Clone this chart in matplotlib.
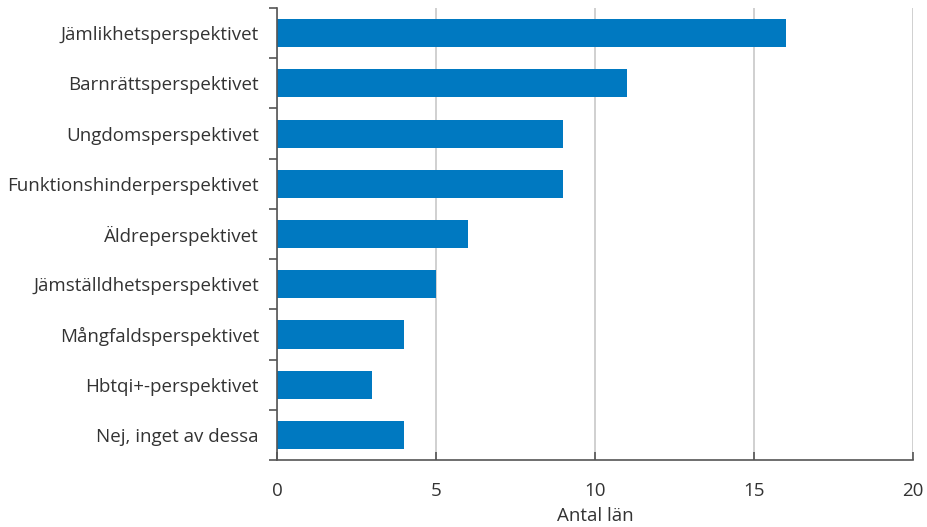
import matplotlib.pyplot as plt
from matplotlib.ticker import FixedLocator

plt.rcParams["font.family"] = ["Open Sans", "DejaVu Sans"]

categories = [
    "Jämlikhetsperspektivet",
    "Barnrättsperspektivet",
    "Ungdomsperspektivet",
    "Funktionshinderperspektivet",
    "Äldreperspektivet",
    "Jämställdhetsperspektivet",
    "Mångfaldsperspektivet",
    "Hbtqi+-perspektivet",
    "Nej, inget av dessa",
]
values = [16, 11, 9, 9, 6, 5, 4, 3, 4]
xticks = [0, 5, 10, 15, 20]

fig = plt.figure(figsize=(9.27, 5.27), dpi=100)
ax = fig.add_axes([0.2988, 0.1271, 0.6862, 0.8577])

pos = list(range(len(categories)))
ax.barh(pos, values, height=0.56, color="#0079C1", zorder=3)
ax.set_ylim(len(categories) - 0.5, -0.5)
ax.set_xlim(0, 20)

ax.set_yticks(pos)
ax.set_yticklabels(categories, fontsize=13.5, color="#333333")
ax.yaxis.set_minor_locator(FixedLocator([p - 0.5 for p in range(len(categories) + 1)]))
ax.tick_params(axis="y", which="major", length=0, pad=13)
ax.tick_params(axis="y", which="minor", length=6, width=1.2, color="#555555", direction="out")

ax.set_xticks(xticks)
ax.set_xticklabels([str(t) for t in xticks], fontsize=13.5, color="#333333")
ax.tick_params(axis="x", length=6, width=1.2, color="#555555", direction="in", pad=16)
ax.grid(axis="x", color="#c8c8c8", linewidth=1.2, zorder=0)
ax.set_xlabel("Antal län", fontsize=13.5, color="#333333", labelpad=5)

for s in ["top", "right"]:
    ax.spines[s].set_visible(False)
for s in ["left", "bottom"]:
    ax.spines[s].set_color("#555555")
    ax.spines[s].set_linewidth(1.2)
    ax.spines[s].set_zorder(4)

fig.savefig("out.png", dpi=100)
